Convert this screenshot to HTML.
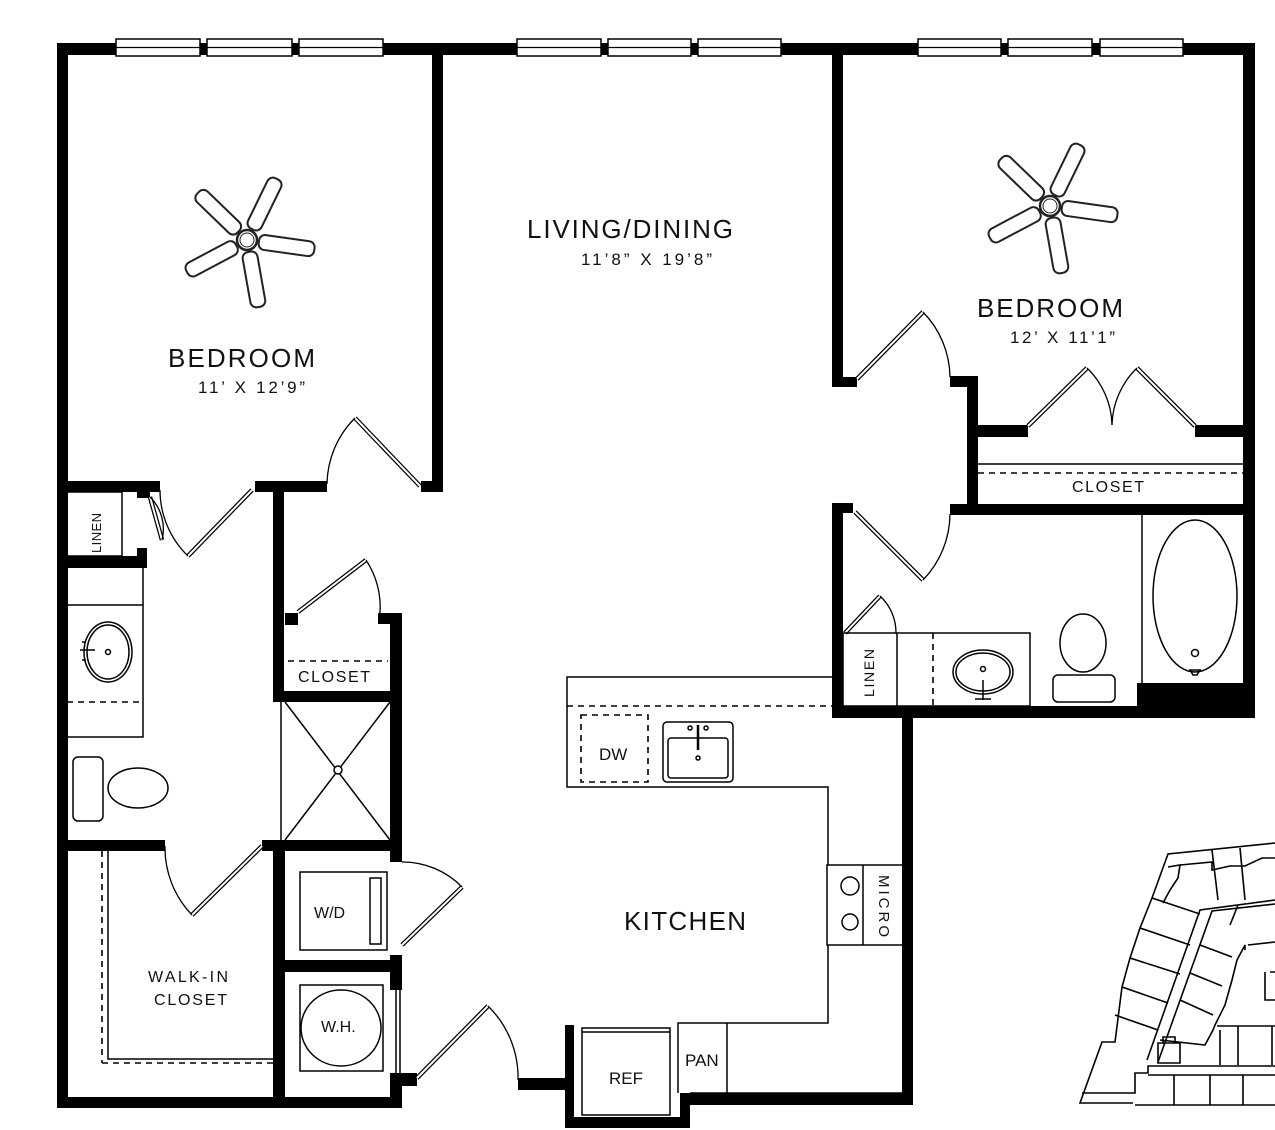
<!DOCTYPE html>
<html><head><meta charset="utf-8"><style>
html,body{margin:0;padding:0;background:#fff;}
svg{display:block}
text{font-family:"Liberation Sans",Arial,sans-serif;fill:#111}
</style></head><body>
<svg width="1275" height="1130" viewBox="0 0 1275 1130" xmlns="http://www.w3.org/2000/svg">
<defs>
<g id="blade"><rect x="12" y="-7.5" width="56" height="15" rx="6" fill="#fff" stroke="#222" stroke-width="2"/></g>
<g id="fan">
<use href="#blade" transform="rotate(-64)"/><use href="#blade" transform="rotate(8)"/><use href="#blade" transform="rotate(80)"/><use href="#blade" transform="rotate(152)"/><use href="#blade" transform="rotate(224)"/>
<circle r="10" fill="#fff" stroke="#222" stroke-width="2.5"/><circle r="7" fill="none" stroke="#222" stroke-width="1"/>
</g>
</defs>
<rect width="1275" height="1130" fill="#fff"/>
<g fill="#000">
<!-- outer -->
<rect x="57" y="43" width="1198" height="12"/>
<rect x="57" y="43" width="11" height="1065"/>
<rect x="57" y="1097" width="345" height="11"/>
<rect x="390" y="1073" width="27" height="13"/>
<!-- left bedroom -->
<rect x="432" y="43" width="11" height="449"/>
<rect x="421" y="481" width="22" height="11"/>
<rect x="255" y="481" width="72" height="11"/>
<rect x="273" y="481" width="11" height="221"/>
<rect x="57" y="481" width="103" height="11"/>
<rect x="137" y="481" width="13" height="17"/>
<rect x="57" y="556" width="90" height="12"/>
<rect x="137" y="548" width="10" height="20"/>
<!-- closet & shower -->
<rect x="285" y="613" width="13" height="12"/>
<rect x="378" y="613" width="24" height="11"/>
<rect x="390" y="613" width="12" height="249"/>
<rect x="273" y="691" width="129" height="11"/>
<rect x="57" y="840" width="108" height="11"/>
<rect x="262" y="840" width="140" height="11"/>
<rect x="273" y="840" width="12" height="268"/>
<rect x="283" y="960" width="119" height="12"/>
<rect x="390" y="955" width="12" height="35"/>
<rect x="390" y="1073" width="12" height="35"/>
<!-- kitchen -->
<rect x="518" y="1078" width="50" height="12"/>
<rect x="565" y="1025" width="9" height="103"/>
<rect x="565" y="1117" width="125" height="11"/>
<rect x="680" y="1093" width="10" height="35"/>
<rect x="680" y="1093" width="233" height="12"/>
<rect x="902" y="706" width="11" height="399"/>
<!-- right side -->
<rect x="832" y="43" width="11" height="344"/>
<rect x="832" y="377" width="25" height="10"/>
<rect x="950" y="376" width="28" height="11"/>
<rect x="967" y="376" width="11" height="139"/>
<rect x="978" y="425" width="50" height="12"/>
<rect x="1195" y="425" width="50" height="12"/>
<rect x="1243" y="43" width="12" height="675"/>
<rect x="950" y="504" width="305" height="11"/>
<rect x="832" y="503" width="11" height="215"/>
<rect x="832" y="503" width="21" height="10"/>
<rect x="832" y="706" width="423" height="12"/>
<rect x="1137" y="683" width="118" height="35"/>
</g>
<!-- windows -->
<g fill="#fff" stroke="#000" stroke-width="1.5">
<rect x="116" y="39" width="84" height="17"/><rect x="207" y="39" width="85" height="17"/><rect x="299" y="39" width="84" height="17"/>
<rect x="517" y="39" width="84" height="17"/><rect x="608" y="39" width="83" height="17"/><rect x="698" y="39" width="83" height="17"/>
<rect x="918" y="39" width="83" height="17"/><rect x="1008" y="39" width="84" height="17"/><rect x="1100" y="39" width="83" height="17"/>
</g>
<g stroke="#000" stroke-width="1.2">
<line x1="116" y1="47.5" x2="383" y2="47.5"/><line x1="517" y1="47.5" x2="781" y2="47.5"/><line x1="918" y1="47.5" x2="1183" y2="47.5"/>
</g>
<!-- door leaves -->
<g stroke="#000" stroke-width="4.5" fill="none" stroke-linecap="butt">
<path d="M420 486 L355 418 M252 490 L188 556 M150 497 L162 540 M298 612 L366 560 M262 846 L192 915 M402 945 L462 887 M417 1078 L488 1006 M857 379 L923 312 M1028 426 L1087 368 M1195 426 L1137 368 M855 512 L923 580 M845 633 L880 596"/>
</g>
<g stroke="#fff" stroke-width="2" fill="none">
<path d="M420 486 L355 418 M252 490 L188 556 M150 497 L162 540 M298 612 L366 560 M262 846 L192 915 M402 945 L462 887 M417 1078 L488 1006 M857 379 L923 312 M1028 426 L1087 368 M1195 426 L1137 368 M855 512 L923 580 M845 633 L880 596"/>
</g>
<!-- door arcs -->
<g stroke="#000" stroke-width="1.3" fill="none">
<path d="M355 418 A95 95 0 0 0 327 484"/>
<path d="M188 556 A92 92 0 0 1 160 490"/>
<path d="M162 540 A45 45 0 0 0 150 497"/>
<path d="M366 560 A85 85 0 0 1 380 613"/>
<path d="M192 915 A97 97 0 0 1 165 846"/>
<path d="M462 887 A83 83 0 0 0 402 862"/>
<path d="M488 1006 A100 100 0 0 1 518 1080"/>
<path d="M923 312 A95 95 0 0 1 950 377"/>
<path d="M1087 368 A82 82 0 0 1 1112 425"/>
<path d="M1137 368 A82 82 0 0 0 1112 425"/>
<path d="M923 580 A96 96 0 0 0 950 514"/>
<path d="M880 596 A50 50 0 0 1 896 633"/>
</g>
<!-- fixtures -->
<g stroke="#000" stroke-width="1.5" fill="none">
<!-- linen left -->
<rect x="67" y="492" width="55" height="64"/>
<!-- vanity left -->
<path d="M67 605 H143 V737 H67"/>
<line x1="67" y1="568" x2="67" y2="605"/>
<line x1="143" y1="568" x2="143" y2="605"/>
<ellipse cx="108" cy="652" rx="24" ry="30"/><ellipse cx="108" cy="652" rx="21" ry="27"/>
<circle cx="108" cy="652" r="2.5"/>
<path d="M80 650 H95 M82 642 h4 M82 660 h4"/>
<!-- toilet left -->
<rect x="73" y="757" width="30" height="64" rx="5"/>
<ellipse cx="138" cy="788" rx="30" ry="20"/>
<!-- shower -->
<line x1="281" y1="702" x2="281" y2="840"/>
<line x1="285" y1="702" x2="390" y2="840"/><line x1="390" y1="702" x2="285" y2="840"/>
<circle cx="338" cy="770" r="4" fill="#fff"/>
<!-- walk-in -->
<path d="M108 851 V1059 H273"/>
<!-- W/D -->
<rect x="300" y="872" width="87" height="78"/>
<rect x="370" y="878" width="11" height="66"/>
<!-- WH -->
<rect x="300" y="985" width="83" height="86"/>
<ellipse cx="341" cy="1028" rx="40" ry="38"/>
<line x1="396" y1="990" x2="396" y2="1073"/><line x1="400" y1="990" x2="400" y2="1073"/>
<!-- counter -->
<path d="M832 677 H567 V787 H828 V865"/>
<rect x="827" y="865" width="80" height="80"/>
<line x1="863" y1="865" x2="863" y2="945"/>
<circle cx="850" cy="886" r="9"/><circle cx="850" cy="922" r="8"/>
<path d="M828 945 V1023 H678 V1093"/>
<line x1="727" y1="1023" x2="727" y2="1093"/>
<line x1="690" y1="1093" x2="902" y2="1093"/>
<rect x="663" y="722" width="70" height="60" rx="4"/>
<rect x="668" y="738" width="60" height="40" rx="3"/>
<line x1="698" y1="725" x2="698" y2="750" stroke-width="2.5"/>
<circle cx="690" cy="728" r="2"/><circle cx="706" cy="728" r="2"/><circle cx="698" cy="758" r="2"/>
<!-- REF -->
<rect x="582" y="1028" width="88" height="87"/>
<line x1="582" y1="1032" x2="670" y2="1032"/>
<!-- right closet -->
<line x1="978" y1="464" x2="1243" y2="464"/>
<!-- bath right -->
<line x1="1142" y1="515" x2="1142" y2="683"/>
<ellipse cx="1195" cy="596" rx="42" ry="76"/>
<circle cx="1195" cy="653" r="3.5"/>
<path d="M1190 670 h10 l-3 5 h-4 z"/>
<rect x="843" y="633" width="187" height="73"/>
<line x1="897" y1="633" x2="897" y2="706"/>
<ellipse cx="983" cy="672" rx="30" ry="22"/><ellipse cx="983" cy="672" rx="27" ry="19"/>
<circle cx="983" cy="669" r="2.5"/>
<path d="M983 680 V700 M975 699 h16"/>
<ellipse cx="1083" cy="643" rx="23" ry="29"/>
<rect x="1053" y="675" width="62" height="27" rx="5"/>
</g>
<g stroke="#000" stroke-width="1.6" fill="none" stroke-dasharray="6,5">
<line x1="67" y1="702" x2="143" y2="702"/>
<line x1="102" y1="851" x2="102" y2="1063"/><line x1="102" y1="1063" x2="273" y2="1063"/>
<line x1="288" y1="661" x2="388" y2="661"/>
<line x1="567" y1="706" x2="832" y2="706"/>
<rect x="581" y="715" width="67" height="67"/>
<line x1="978" y1="473" x2="1243" y2="473"/>
<line x1="933" y1="633" x2="933" y2="706"/>
</g>
<!-- fans -->
<use href="#fan" transform="translate(247,240)"/>
<use href="#fan" transform="translate(1050,206)"/>
<!-- labels -->
<text x="168" y="367" font-size="26" textLength="147">BEDROOM</text>
<text x="198" y="393" font-size="17" textLength="107">11’ X 12’9”</text>
<text x="527" y="238" font-size="26" textLength="206">LIVING/DINING</text>
<text x="581" y="265" font-size="17" textLength="131">11’8” X 19’8”</text>
<text x="977" y="317" font-size="26" textLength="146">BEDROOM</text>
<text x="1010" y="343" font-size="17" textLength="105">12’ X 11’1”</text>
<text x="1072" y="492" font-size="16" textLength="72">CLOSET</text>
<text x="298" y="682" font-size="16" textLength="72">CLOSET</text>
<text x="624" y="930" font-size="26" textLength="122">KITCHEN</text>
<text x="599" y="760" font-size="17">DW</text>
<text x="609" y="1084" font-size="17">REF</text>
<text x="685" y="1066" font-size="17">PAN</text>
<text x="314" y="918" font-size="16">W/D</text>
<text x="321" y="1032" font-size="16">W.H.</text>
<text x="148" y="982" font-size="16" text-anchor="start" textLength="80">WALK-IN</text>
<text x="154" y="1005" font-size="16" textLength="73">CLOSET</text>
<text transform="translate(101,553) rotate(-90)" font-size="13" textLength="40">LINEN</text>
<text transform="translate(874,697) rotate(-90)" font-size="14" textLength="48">LINEN</text>
<text transform="translate(879,875) rotate(90)" font-size="15" textLength="62">MICRO</text>
<!-- site plan -->
<g stroke="#000" stroke-width="1.6" fill="none">
<path d="M1275 843 L1168 854 L1152 898 L1140 928 L1130 958 L1122 987 L1115 1042 L1102 1042 L1080 1103 L1133 1103"/>
<path d="M1082 1093 L1135 1093 L1135 1073 L1148 1073 L1148 1066 L1275 1066"/>
<path d="M1148 1075 L1275 1075 M1174 1075 V1105 M1210 1075 V1105 M1243 1075 V1105 M1135 1105 H1275"/>
<path d="M1275 900 L1200 910 L1147 1060 M1275 904 L1212 911 L1158 1062"/>
<path d="M1152 898 L1200 914 M1140 928 L1190 945 M1130 958 L1180 974 M1122 987 L1168 1003 M1115 1015 L1158 1030"/>
<path d="M1168 867 L1180 865 L1178 878 L1170 890 L1163 903 M1212 850 L1218 900 M1240 848 L1245 900 M1180 865 L1212 862 L1212 870 L1230 866 L1245 866 L1262 858 L1275 858"/>
<path d="M1200 945 L1232 957 M1190 973 L1222 986 M1180 1000 L1213 1015 M1230 925 L1238 905 M1245 950 V945 L1237 960 L1232 980 L1225 1005 L1215 1025 L1213 1030 L1205 1045 L1160 1040"/>
<path d="M1248 945 L1275 942 M1270 972 H1275 M1265 972 V1000 H1275 M1217 1026 L1275 1026 M1238 1026 V1065 M1220 1030 V1065 M1272 1026 V1065"/>
<path d="M1158 1043 H1180 V1063 H1158 Z M1163 1043 V1037 H1175 V1043"/>
</g>
</svg>
</body></html>
